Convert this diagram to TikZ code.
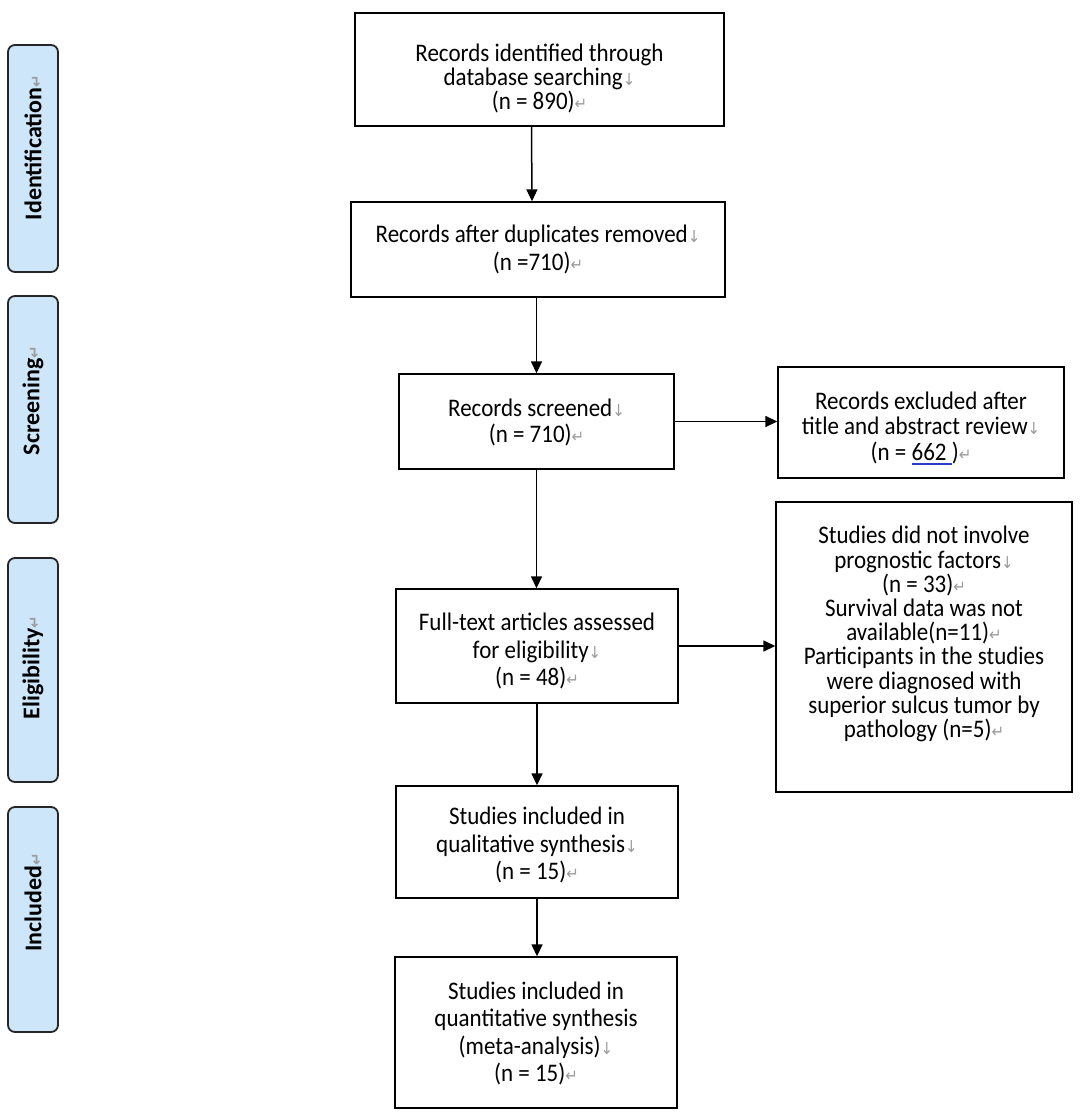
\documentclass[tikz,border=0pt]{standalone}
\usepackage{fontspec}
\usepackage{graphicx}
\setmainfont{Carlito}
\newfontfamily\symfont{DejaVu Sans}
\usetikzlibrary{arrows.meta}
\definecolor{panelblue}{RGB}{205,230,249}
\definecolor{markgray}{RGB}{155,155,155}
\definecolor{ulblue}{RGB}{40,60,200}
\newcommand{\lbmark}{{\symfont\color{markgray}\fontsize{15}{15}\selectfont ↓}}
\newcommand{\parmark}{{\symfont\color{markgray}\fontsize{15}{15}\selectfont ↵}}
\newcommand{\blueul}[1]{\setbox0\hbox{#1}\rlap{\color{ulblue}\rule[-3.5pt]{\wd0}{1pt}}\box0}
% #1 vertical offset, #2 baselineskip (before stretch), #3 lines
\newcommand{\vstr}[3]{\raisebox{#1}[\height][\depth]{\scalebox{1}[1.1]{\vbox{\baselineskip=#2\lineskiplimit=-100pt\let\\\cr\halign{\hfil##\hfil\cr#3\cr}}}}}
\tikzset{
  box/.style={draw=black, line width=1.4pt, inner sep=0pt,
    font=\fontsize{23}{23}\selectfont, text=black},
  panel/.style={draw=black!85, fill=panelblue, line width=1.8pt, rounded corners=7pt,
    rotate=90, inner sep=0pt, minimum height=50pt, font=\bfseries\fontsize{24}{26}\selectfont},
  arr/.style={-{Triangle[length=12pt,width=11pt]}, line width=1.5pt}
}
\begin{document}
\begin{tikzpicture}[x=1pt,y=-1pt]
\useasboundingbox (0,0) rectangle (1084,1113);
\fill[white] (0,0) rectangle (1084,1113);

% side panels
\node[panel, minimum width=227pt] (pid) at (33,158.5) {\hspace*{22pt}Identification\parmark};
\node[panel, minimum width=227pt] (psc) at (33,409.5) {\hspace*{18pt}Screening\parmark};
\node[panel, minimum width=224pt] (pel) at (33,670) {\hspace*{5pt}Eligibility\parmark};
\node[panel, minimum width=225pt] (pin) at (33,919.5) {\hspace*{34pt}Included\parmark};

% main boxes
\node[box, minimum width=369pt, minimum height=113pt] (b1) at (539.5,69.5)
  {\vstr{-9pt}{22.1pt}{Records identified through\\ database searching\lbmark\\ (n = 890)\parmark}};
\node[box, minimum width=374pt, minimum height=95pt] (b2) at (538,249.5)
  {\vstr{0pt}{25.5pt}{Records after duplicates removed\lbmark\\ (n =710)\parmark}};
\node[box, minimum width=275pt, minimum height=95pt] (b3) at (536.5,421.5)
  {\vstr{-1pt}{24.3pt}{Records screened\lbmark\\ (n = 710)\parmark}};
\node[box, minimum width=286pt, minimum height=111pt] (ex1) at (921,422.5)
  {\vstr{-5.5pt}{23.5pt}{Records excluded after\\ title and abstract review\lbmark\\ (n = \blueul{662 })\parmark}};
\node[box, minimum width=282pt, minimum height=114pt] (b4) at (537,646)
  {\vstr{-5pt}{25pt}{Full-text articles assessed\\ for eligibility\lbmark\\ (n = 48)\parmark}};
\node[box, minimum width=296pt, minimum height=290pt] (ex2) at (924,647)
  {\vstr{13pt}{22pt}{Studies did not involve\\ prognostic factors\lbmark\\ (n = 33)\parmark\\
   Survival data was not\\ available(n=11)\parmark\\ Participants in the studies\\
   were diagnosed with\\ superior sulcus tumor by\\ pathology (n=5)\parmark}};
\node[box, minimum width=282pt, minimum height=112pt] (b5) at (537,842)
  {\vstr{-3pt}{25pt}{Studies included in\\ qualitative synthesis\lbmark\\ (n = 15)\parmark}};
\node[box, minimum width=282pt, minimum height=151pt] (b6) at (536,1032.5)
  {\vstr{-1pt}{25pt}{Studies included in\\ quantitative synthesis\\ (meta-analysis)\lbmark\\ (n = 15)\parmark}};

% connectors
\draw[arr] ([xshift=-8pt]b1.south) -- ([xshift=-6pt]b2.north);
\draw[arr] (b3.north |- b2.south) -- (b3.north);
\draw[arr] (b3.south) -- (b3.south |- b4.north);
\draw[arr] (b4.south) -- (b5.north);
\draw[arr] (b5.south) -- (b5.south |- b6.north);
\draw[arr] (b3.east) -- (b3.east -| ex1.west);
\draw[arr] (b4.east) -- (b4.east -| ex2.west);
\end{tikzpicture}
\end{document}
